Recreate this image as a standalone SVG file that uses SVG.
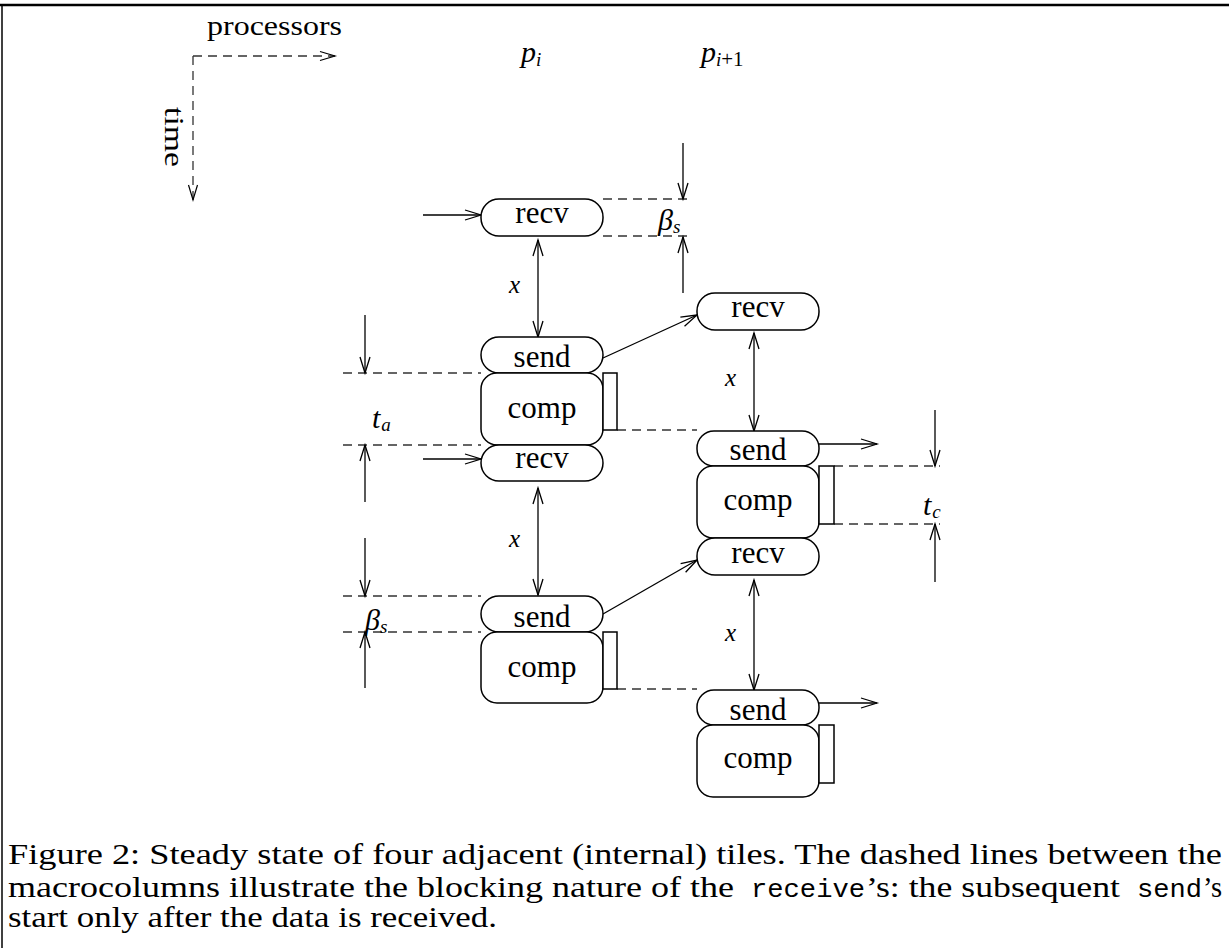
<svg xmlns="http://www.w3.org/2000/svg" width="1229" height="948" viewBox="0 0 1229 948">
<style>
.box{fill:#fff;stroke:#000;stroke-width:1.5}
.lbl{font-family:"Liberation Serif",serif;font-size:31px;text-anchor:middle;fill:#000}
.m{font-family:"Liberation Serif",serif;font-style:italic;fill:#000}
.sub{font-family:"Liberation Serif",serif;font-style:italic;font-size:19px}
.arr{stroke:#000;stroke-width:1.3;fill:none;marker-end:url(#ah)}
.dbl{stroke:#000;stroke-width:1.3;fill:none;marker-end:url(#ah);marker-start:url(#ah)}
.dash{stroke:#333;stroke-width:1.3;fill:none;stroke-dasharray:9 6}
.cap{font-family:"Liberation Serif",serif;font-size:30px;fill:#000}
.mono{font-family:"Liberation Mono",monospace;font-size:26px;fill:#000}
</style>
<defs>
<marker id="ah" markerWidth="17" markerHeight="11" refX="16" refY="5" orient="auto-start-reverse" markerUnits="userSpaceOnUse" overflow="visible">
<path d="M0,0 L16,5 L0,10" fill="none" stroke="#000" stroke-width="1.3"/>
</marker>
<marker id="ahd" markerWidth="16" markerHeight="10" refX="15" refY="4.5" orient="auto" markerUnits="userSpaceOnUse" overflow="visible">
<path d="M0,0 L15,4.5 L0,9" fill="none" stroke="#000" stroke-width="1.2"/>
</marker>
</defs>
<rect width="1229" height="948" fill="#fff"/>
<g id="frame">
<line x1="0" y1="5" x2="1229" y2="5" stroke="#000" stroke-width="2.5"/>
<line x1="2" y1="5" x2="2" y2="948" stroke="#000" stroke-width="1.5"/>
</g>
<g id="axes">
<line x1="193" y1="56" x2="335" y2="56" class="dash" marker-end="url(#ahd)" stroke-dasharray="8 6"/>
<line x1="193" y1="56" x2="193" y2="200" class="dash" marker-end="url(#ahd)" stroke-dasharray="8 6"/>
<text x="207" y="35" font-family="Liberation Serif,serif" font-size="27" textLength="135" lengthAdjust="spacingAndGlyphs">processors</text>
<text transform="translate(165,107) rotate(90)" font-family="Liberation Serif,serif" font-size="27" textLength="60" lengthAdjust="spacingAndGlyphs">time</text>
<text x="521" y="62" class="m" font-size="30">p<tspan class="sub" dy="4">i</tspan></text>
<text x="701" y="62" class="m" font-size="30">p<tspan class="sub" dy="4">i</tspan><tspan font-style="normal" font-size="21">+1</tspan></text>
</g>
<g id="connectors">
<line x1="423" y1="215" x2="481" y2="215" class="arr"/>
<line x1="538" y1="240" x2="538" y2="337" class="dbl"/>
<line x1="603" y1="358" x2="697" y2="315" class="arr"/>
<line x1="754" y1="333" x2="754" y2="431" class="dbl"/>
<line x1="819" y1="444" x2="877" y2="444" class="arr"/>
<line x1="423" y1="459" x2="481" y2="459" class="arr"/>
<line x1="538" y1="488" x2="538" y2="595" class="dbl"/>
<line x1="603" y1="614" x2="697" y2="560" class="arr"/>
<line x1="754" y1="580" x2="754" y2="690" class="dbl"/>
<line x1="819" y1="703" x2="877" y2="703" class="arr"/>
<line x1="603" y1="199" x2="690" y2="199" class="dash"/>
<line x1="603" y1="236" x2="690" y2="236" class="dash"/>
<line x1="343" y1="373" x2="481" y2="373" class="dash"/>
<line x1="343" y1="445" x2="481" y2="445" class="dash"/>
<line x1="617" y1="430" x2="697" y2="430" class="dash"/>
<line x1="834" y1="466" x2="940" y2="466" class="dash"/>
<line x1="834" y1="524" x2="940" y2="524" class="dash"/>
<line x1="343" y1="596" x2="481" y2="596" class="dash"/>
<line x1="343" y1="632" x2="481" y2="632" class="dash"/>
<line x1="617" y1="689" x2="697" y2="689" class="dash"/>
<line x1="683" y1="143" x2="683" y2="199" class="arr"/>
<line x1="683" y1="293" x2="683" y2="237" class="arr"/>
<line x1="365" y1="315" x2="365" y2="373" class="arr"/>
<line x1="365" y1="502" x2="365" y2="445" class="arr"/>
<line x1="365" y1="538" x2="365" y2="596" class="arr"/>
<line x1="365" y1="688" x2="365" y2="632" class="arr"/>
<line x1="935" y1="410" x2="935" y2="466" class="arr"/>
<line x1="935" y1="582" x2="935" y2="524" class="arr"/>
</g>
<g id="labels">
<text x="509" y="293" class="m" font-size="25">x</text>
<text x="509" y="547" class="m" font-size="25">x</text>
<text x="725" y="386" class="m" font-size="25">x</text>
<text x="725" y="641" class="m" font-size="25">x</text>
<text x="658" y="230" class="m" font-size="30">β<tspan class="sub" dy="3">s</tspan></text>
<text x="365" y="630" class="m" font-size="30">β<tspan class="sub" dy="3">s</tspan></text>
<text x="372" y="428" class="m" font-size="30">t<tspan class="sub" dy="3" dx="1">a</tspan></text>
<text x="923" y="515" class="m" font-size="30">t<tspan class="sub" dy="3" dx="1">c</tspan></text>
</g>
<g id="L-recv1"><rect class="box" x="481" y="199" width="122" height="37" rx="18"/><text class="lbl" x="542" y="223">recv</text></g>
<g id="L-send1"><rect class="box" x="481" y="337" width="122" height="36" rx="18"/><text class="lbl" x="542" y="367">send</text></g>
<g id="L-comp1"><rect class="box" x="481" y="373" width="122" height="72" rx="16"/><rect class="box" x="603" y="373" width="14" height="57"/><text class="lbl" x="542" y="418">comp</text></g>
<g id="L-recv2"><rect class="box" x="481" y="445" width="122" height="36" rx="18"/><text class="lbl" x="542" y="468">recv</text></g>
<g id="L-send2"><rect class="box" x="481" y="596" width="122" height="36" rx="18"/><text class="lbl" x="542" y="627">send</text></g>
<g id="L-comp2"><rect class="box" x="481" y="632" width="122" height="71" rx="16"/><rect class="box" x="603" y="632" width="14" height="57"/><text class="lbl" x="542" y="677">comp</text></g>
<g id="R-recv1"><rect class="box" x="697" y="293" width="122" height="37" rx="18"/><text class="lbl" x="758" y="317">recv</text></g>
<g id="R-send1"><rect class="box" x="697" y="431" width="122" height="35" rx="17"/><text class="lbl" x="758" y="460">send</text></g>
<g id="R-comp1"><rect class="box" x="697" y="466" width="122" height="72" rx="16"/><rect class="box" x="819" y="466" width="15" height="58"/><text class="lbl" x="758" y="510">comp</text></g>
<g id="R-recv2"><rect class="box" x="697" y="538" width="122" height="37" rx="18"/><text class="lbl" x="758" y="563">recv</text></g>
<g id="R-send2"><rect class="box" x="697" y="690" width="122" height="35" rx="17"/><text class="lbl" x="758" y="720">send</text></g>
<g id="R-comp2"><rect class="box" x="697" y="725" width="122" height="72" rx="16"/><rect class="box" x="819" y="725" width="15" height="58"/><text class="lbl" x="758" y="768">comp</text></g>
<g id="caption">
<text class="cap" x="8" y="864" textLength="1214" lengthAdjust="spacingAndGlyphs">Figure 2: Steady state of four adjacent (internal) tiles. The dashed lines between the</text>
<text class="cap" x="8" y="897" textLength="726" lengthAdjust="spacingAndGlyphs">macrocolumns illustrate the blocking nature of the</text>
<text class="mono" x="751" y="897" textLength="114" lengthAdjust="spacingAndGlyphs">receive</text>
<text class="cap" x="866" y="897" textLength="254" lengthAdjust="spacingAndGlyphs">’s: the subsequent</text>
<text class="mono" x="1137" y="897" textLength="65" lengthAdjust="spacingAndGlyphs">send</text>
<text class="cap" x="1203" y="897" textLength="19" lengthAdjust="spacingAndGlyphs">’s</text>
<text class="cap" x="8" y="927" textLength="489" lengthAdjust="spacingAndGlyphs">start only after the data is received.</text>
</g>
</svg>
